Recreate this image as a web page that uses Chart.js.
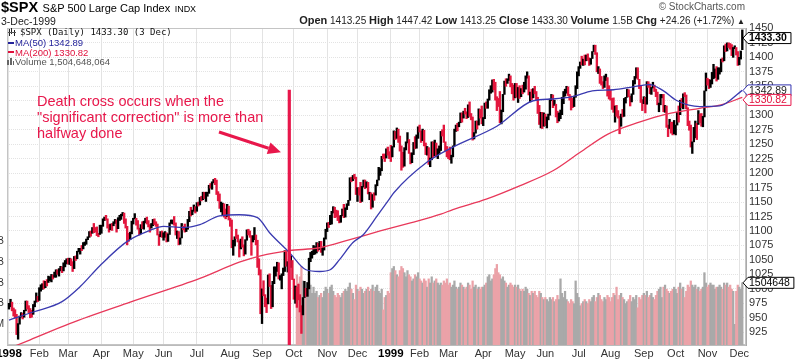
<!DOCTYPE html>
<html><head><meta charset="utf-8">
<script src="https://cdn.jsdelivr.net/npm/chart.js@4.4.1/dist/chart.umd.min.js"></script>
<style>
html,body{margin:0;padding:0;background:#fff;}
#wrap{position:relative;width:800px;height:360px;overflow:hidden;font-family:Arial,"Liberation Sans",sans-serif;}
canvas{position:absolute;left:0;top:0;}
.t{position:absolute;white-space:nowrap;}
</style></head><body>
<div id="wrap">
<canvas id="c" width="800" height="360"></canvas>
<div class="t" style="left:1px;top:-1px;line-height:16px;color:#000;"><b style="font-size:14.5px;">$SPX</b> <span style="font-size:11px;">S&amp;P 500 Large Cap Index</span> <span style="font-size:9px;">INDX</span></div>
<div class="t" style="left:1px;top:16px;line-height:11px;font-size:10.5px;color:#222;">3-Dec-1999</div>
<div class="t" style="right:55px;top:1px;line-height:11px;font-size:10px;color:#555;">© StockCharts.com</div>
<div class="t" id="stats" style="right:55px;top:14px;line-height:12px;font-size:10px;color:#222;"></div>
<div class="t" style="left:8px;top:28px;width:9px;height:8px;">
  <span style="position:absolute;left:1px;top:1px;width:1px;height:7px;background:#222"></span>
  <span style="position:absolute;left:3px;top:0px;width:1px;height:6px;background:#222"></span>
  <span style="position:absolute;left:6px;top:2px;width:1px;height:6px;background:#222"></span>
  <span style="position:absolute;left:0px;top:4px;width:8px;height:1px;background:#555"></span>
</div>
<div class="t" id="lg1" style="left:20px;top:27px;line-height:11px;font:9px 'DejaVu Sans Mono',monospace;color:#111;"></div>
<div class="t" style="left:8px;top:42px;width:6px;height:2px;background:#23239b;"></div>
<div class="t" id="lg2" style="left:15px;top:37px;line-height:11px;font-size:9.5px;color:#23239b;"></div>
<div class="t" style="left:8px;top:51px;width:6px;height:2px;background:#e0103c;"></div>
<div class="t" id="lg3" style="left:15px;top:46.5px;line-height:11px;font-size:9.5px;color:#e0103c;"></div>
<div class="t" style="left:7px;top:57px;width:8px;height:8px;">
  <span style="position:absolute;left:0px;top:3px;width:2px;height:5px;background:#666"></span>
  <span style="position:absolute;left:3px;top:1px;width:2px;height:7px;background:#666"></span>
  <span style="position:absolute;left:6px;top:4px;width:1px;height:4px;background:#666"></span>
</div>
<div class="t" id="lg4" style="left:15px;top:56px;line-height:11px;font-size:9.5px;color:#555;"></div>
<div class="t" style="left:37px;top:92.5px;line-height:16.3px;font-size:14.5px;color:#e8174b;">Death cross occurs when the<br>"significant correction" is more than<br>halfway done</div>
</div>
<script>
// ---- month axis (trading-day index of each month's first session) ----
const monthStarts = [0,20,39,61,82,102,124,146,167,188,210,230,252,271,290,313,334,354,376,397,419,440,461,482];
const monthLabels = ['1998','Feb','Mar','Apr','May','Jun','Jul','Aug','Sep','Oct','Nov','Dec','1999','Feb','Mar','Apr','May','Jun','Jul','Aug','Sep','Oct','Nov','Dec'];
const priceTicks = [925,950,975,1000,1025,1050,1075,1100,1125,1150,1175,1200,1225,1250,1275,1300,1325,1350,1375,1400,1425,1450];
const volTicks = [500e6,1000e6,1500e6,2000e6,2500e6];
const prevCloseBefore = 970;

// ---- daily closes, 2-Jan-1998 .. 3-Dec-1999 ----
const closes = [
975,977,967,964,956,928,939,952,958,951,962,979,971,963,958,957,969,977,985,980,
1001,1006,1007,1004,1012,1011,1019,1020,1024,1020,1023,1032,1028,1034,1038,1031,1043,1049,1049,
1048,1052,1047,1035,1056,1052,1064,1068,1070,1069,1079,1080,1086,1090,1099,1096,1106,1102,1101,1095,1094,1102,
1108,1120,1123,1121,1110,1102,1111,1110,1116,1119,1108,1123,1124,1127,1131,1120,1108,1087,1085,1095,1112,
1121,1122,1116,1105,1095,1108,1107,1116,1119,1117,1109,1106,1110,1119,1115,1110,1094,1092,1098,1091,
1091,1093,1083,1095,1114,1116,1118,1112,1095,1099,1077,1088,1107,1106,1101,1103,1119,1133,1129,1133,1138,1134,
1149,1146,1157,1155,1166,1159,1164,1165,1178,1175,1184,1187,1184,1165,1164,1140,1141,1147,1130,1125,1143,1121,
1112,1072,1081,1090,1089,1083,1069,1084,1075,1063,1084,1101,1098,1092,1081,1088,1093,1084,1043,1027,957,
994,990,982,974,1023,1006,980,1009,1030,1038,1045,1019,1020,1024,1030,1066,1043,1045,1049,1049,1017,
986,1003,989,985,971,959,984,998,995,1006,1047,1056,1062,1064,1070,1078,1071,1072,1065,1068,1086,1099,
1112,1111,1119,1134,1141,1130,1128,1121,1118,1126,1136,1129,1139,1144,1153,1192,1187,1195,1192,1164,
1175,1171,1150,1177,1188,1181,1183,1165,1166,1141,1163,1162,1180,1188,1203,1204,1229,1226,1225,1242,1232,1229,
1228,1245,1272,1270,1275,1264,1240,1234,1212,1243,1252,1257,1235,1225,1234,1252,1243,1265,1280,
1273,1262,1272,1248,1239,1244,1216,1224,1254,1230,1252,1230,1239,1239,1272,1271,1253,1245,1238,
1236,1226,1228,1247,1275,1283,1280,1287,1298,1295,1307,1306,1298,1317,1299,1297,1262,1269,1290,1283,1310,1301,1286,
1294,1321,1318,1327,1344,1348,1359,1350,1328,1323,1319,1289,1306,1336,1359,1357,1360,1363,1351,1343,1335,
1355,1332,1347,1332,1345,1340,1356,1364,1368,1338,1339,1333,1344,1339,1330,1307,1284,1305,1281,1302,
1294,1295,1300,1328,1335,1317,1319,1303,1294,1294,1301,1330,1340,1343,1349,1336,1333,1316,1315,1331,1351,1373,
1381,1391,1388,1396,1394,1403,1399,1394,1398,1410,1419,1408,1377,1379,1361,1357,1348,1363,1365,1341,1329,
1328,1322,1305,1314,1300,1298,1281,1302,1298,1328,1331,1344,1333,1324,1337,1360,1364,1382,1362,1348,1324,1320,
1331,1319,1357,1350,1344,1348,1352,1344,1336,1318,1318,1335,1336,1308,1311,1280,1277,1283,1282,1268,1283,
1283,1305,1301,1325,1318,1336,1335,1313,1286,1283,1247,1254,1261,1289,1284,1302,1294,1282,1297,1342,1363,
1354,1348,1355,1363,1370,1377,1365,1373,1381,1396,1394,1420,1411,1425,1422,1421,1405,1417,1417,1408,1389,
1398,1409,1433.30];

const highs = [
975,982,977,967,964,956,940,953,959,958,963,979,979,971,966,963,973,979,993,987,
1002,1007,1009,1014,1013,1016,1022,1021,1025,1024,1029,1033,1033,1035,1039,1038,1045,1049,1052,
1053,1053,1052,1047,1056,1057,1065,1070,1070,1075,1080,1081,1086,1090,1099,1100,1106,1113,1106,1107,1096,1110,
1110,1121,1124,1127,1121,1111,1112,1113,1116,1120,1119,1123,1127,1129,1132,1131,1121,1108,1096,1098,1117,
1122,1130,1122,1118,1105,1111,1116,1117,1122,1124,1118,1111,1113,1120,1121,1116,1112,1094,1099,1100,
1097,1099,1097,1095,1114,1119,1119,1125,1114,1100,1099,1088,1113,1108,1112,1106,1120,1134,1141,1136,1145,1142,
1149,1150,1158,1160,1167,1167,1167,1167,1179,1182,1185,1189,1191,1188,1168,1164,1150,1148,1147,1138,1146,1143,
1122,1119,1084,1090,1103,1093,1083,1086,1090,1076,1085,1102,1103,1100,1092,1092,1106,1093,1084,1052,1033,
1000,1014,990,984,1024,1026,1006,1013,1038,1038,1046,1045,1023,1026,1036,1066,1066,1047,1062,1057,1049,
1017,1005,1003,1008,990,971,985,1013,1001,1011,1053,1063,1065,1075,1073,1080,1079,1082,1082,1072,1088,1103,
1114,1115,1127,1134,1142,1141,1136,1135,1126,1127,1138,1146,1140,1147,1153,1192,1193,1196,1198,1193,
1175,1175,1184,1177,1188,1188,1185,1184,1167,1166,1163,1166,1180,1188,1210,1208,1229,1233,1233,1242,1245,1237,
1248,1246,1273,1272,1278,1276,1264,1247,1236,1244,1254,1270,1258,1235,1235,1253,1263,1266,1280,
1283,1273,1276,1274,1252,1246,1244,1226,1254,1254,1257,1252,1242,1247,1272,1275,1283,1254,1246,
1240,1245,1231,1247,1276,1283,1286,1288,1304,1304,1307,1312,1306,1318,1323,1303,1297,1270,1290,1290,1311,1310,1316,
1296,1321,1323,1328,1344,1351,1361,1362,1357,1332,1329,1341,1309,1336,1359,1363,1363,1371,1368,1355,1352,
1355,1355,1348,1351,1346,1352,1357,1368,1375,1368,1340,1345,1346,1350,1341,1331,1317,1305,1305,1304,
1302,1297,1302,1328,1336,1335,1326,1319,1307,1304,1309,1331,1341,1345,1350,1349,1336,1333,1329,1333,1351,1375,
1384,1392,1402,1397,1404,1404,1406,1399,1398,1410,1421,1421,1408,1384,1380,1367,1358,1368,1371,1365,1351,
1344,1329,1330,1316,1317,1308,1298,1302,1310,1329,1331,1345,1344,1333,1337,1360,1367,1382,1382,1362,1350,1327,
1332,1331,1358,1358,1354,1348,1357,1352,1345,1340,1321,1336,1336,1336,1317,1316,1283,1293,1288,1288,1291,
1283,1305,1316,1326,1329,1337,1339,1335,1313,1290,1283,1254,1279,1290,1286,1308,1302,1303,1298,1342,1373,
1364,1362,1361,1374,1388,1380,1384,1382,1382,1397,1399,1420,1423,1425,1425,1424,1422,1417,1420,1417,1410,
1400,1411,1447.42];

const lows = [
965,969,962,953,950,921,913,939,951,948,951,962,965,959,950,951,956,969,977,978,
980,996,999,1000,1002,1005,1011,1014,1012,1017,1020,1020,1025,1022,1031,1028,1031,1038,1043,
1043,1042,1040,1030,1035,1049,1052,1064,1060,1066,1069,1075,1077,1085,1089,1091,1096,1097,1098,1092,1090,1094,
1096,1108,1118,1119,1105,1098,1102,1101,1109,1113,1098,1104,1118,1120,1126,1113,1105,1076,1082,1085,1095,
1112,1121,1110,1103,1093,1095,1104,1103,1114,1112,1107,1098,1105,1109,1111,1108,1093,1075,1090,1089,
1084,1089,1081,1082,1094,1113,1112,1110,1093,1087,1076,1077,1088,1102,1098,1099,1103,1116,1126,1128,1134,1131,
1134,1143,1145,1152,1154,1156,1151,1160,1165,1174,1172,1183,1180,1163,1152,1139,1133,1128,1124,1121,1125,1119,
1108,1071,1058,1074,1087,1081,1055,1069,1072,1057,1060,1084,1093,1089,1058,1081,1085,1076,1037,1024,957,
940,988,969,959,974,1004,966,969,1009,1022,1030,1017,1015,1000,1023,1030,1039,1029,1045,1037,1016,
982,975,968,981,960,923,955,985,987,987,1000,1047,1053,1059,1060,1062,1065,1068,1063,1058,1067,1086,
1099,1106,1111,1112,1131,1123,1124,1118,1114,1115,1126,1123,1124,1137,1144,1153,1185,1187,1190,1163,
1151,1162,1149,1151,1176,1173,1175,1164,1154,1138,1141,1153,1162,1178,1188,1196,1204,1225,1220,1226,1231,1225,
1220,1228,1245,1258,1260,1253,1238,1205,1210,1212,1240,1252,1234,1216,1218,1232,1242,1243,1260,
1271,1253,1256,1247,1232,1231,1215,1211,1223,1227,1230,1228,1225,1234,1239,1264,1253,1238,1228,
1225,1223,1217,1228,1247,1272,1273,1280,1287,1288,1295,1302,1294,1296,1298,1292,1257,1259,1269,1276,1283,1295,1285,
1282,1294,1312,1312,1326,1338,1340,1344,1326,1308,1315,1287,1285,1306,1336,1350,1355,1360,1349,1337,1326,
1330,1331,1322,1329,1332,1337,1340,1345,1364,1335,1323,1327,1330,1337,1327,1303,1284,1278,1277,1281,
1282,1278,1292,1300,1325,1313,1317,1297,1287,1290,1294,1301,1320,1333,1338,1334,1326,1309,1313,1315,1331,1346,
1368,1381,1387,1386,1387,1394,1395,1386,1388,1398,1410,1405,1375,1372,1355,1352,1346,1348,1360,1333,1328,
1326,1310,1305,1288,1298,1295,1268,1281,1297,1298,1321,1331,1332,1316,1323,1336,1354,1364,1362,1346,1322,1308,
1320,1304,1319,1348,1337,1336,1347,1341,1332,1318,1306,1318,1330,1306,1305,1279,1263,1277,1269,1266,1268,
1266,1283,1288,1301,1313,1311,1332,1311,1282,1274,1245,1234,1254,1261,1258,1284,1287,1281,1280,1297,1342,
1352,1346,1348,1354,1363,1365,1359,1362,1371,1375,1392,1394,1410,1411,1417,1414,1403,1400,1415,1404,1386,
1387,1397,1413.25];

// ---- volume (millions of shares), from trading day 190 (5-Oct-1998) ----
const volStart = 190;
const volumeM = [
1700,1500,1650,1900,1550,1350,1200,1300,1500,1450,1250,1400,1250,1300,1150,1200,1250,1150,1300,1400,
1350,1250,1400,1450,1300,1200,1150,1250,1200,1150,1250,1300,1350,1300,1400,1500,1350,1250,1100,1450,
1350,1300,1400,1350,1250,1300,1350,1400,1300,1350,1450,1300,1400,1450,1300,1250,1350,850,1150,1200,1300,1250,
1750,1850,1900,1800,1700,1650,1800,1900,1850,1750,1650,1800,1700,1650,1550,1600,1700,1650,1750,
1600,1550,1500,1600,1550,1400,1600,1500,1650,1500,1550,1600,1500,1450,1500,1450,1550,1500,1600,
1450,1500,1400,1450,1550,1400,1350,1400,1500,1450,1400,1350,1400,1500,1450,1350,1550,1400,1450,1350,1400,1350,1400,
1400,1450,1500,1650,1700,1550,1600,1700,1850,1950,1750,1700,1600,1650,1550,1500,1400,1450,1500,1450,1400,
1450,1400,1450,1350,1300,1350,1300,1400,1350,1250,1200,1300,1250,1300,1200,1150,1300,1250,1150,1100,
1150,1100,1050,1150,1100,1150,1050,1100,1200,1100,1600,1250,1150,1300,1100,1050,1000,1100,1050,1000,1550,1250,
1150,950,1000,1050,1100,1050,1000,1100,1050,1150,1200,1050,1150,1250,1200,1100,1050,1150,1100,1200,1150,
1050,1150,1250,1200,1400,1100,1200,1250,1150,1100,1000,1050,1100,1200,1050,1150,1100,1200,900,1150,1100,1200,
1250,1200,1300,1150,1200,1250,1150,1100,1200,1300,1350,1400,1150,1400,1450,1350,1300,1250,1300,1350,1400,
1350,1250,1400,1500,1350,1400,1150,1300,1450,1400,1550,1450,1400,1450,1350,1400,1300,1350,1400,1750,1500,
1400,1450,1500,1450,1450,1350,1400,1400,1450,1400,1350,1500,1450,1500,1400,1450,1350,1300,500,1300,1450,
1400,1350,1504.648064];

// ---- moving averages (trading-day index, value) ----
const ma50Days = [0,16,35,47,60,78,93,102,115,126,139,152,164,172,185,196,205,212,218,227,234,243,251,254,276,293,322,346,359,372,385,399,412,423,432,441,456,469,484];
const ma50Vals = [946,960,978,1004,1040,1082,1101,1108,1106,1111,1126,1128,1123,1097,1063,1033,1030,1033,1050,1080,1094,1126,1155,1166,1219,1245,1281,1325,1328,1332,1342,1344,1349,1353,1342,1325,1315,1316,1342.89];
const ma200Days = [0,14,40,80,126,152,166,185,205,225,245,265,285,293,315,337,359,377,395,416,434,456,470,484];
const ma200Vals = [897,912,940,977,1018,1046,1057,1066,1071,1085,1100,1114,1129,1137,1155,1178,1204,1236,1267,1288,1302,1312,1318,1330.82];

// ---- annotation anchors (trading-day index, price) ----
const markerDay = 185, markerTop = 1344;
const arrowFrom = [138.6, 1271], arrowTo = [179.5, 1236];

const quote = {open:'1413.25', high:'1447.42', low:'1413.25', close:'1433.30', volume:'1.5B', chg:'+24.26 (+1.72%)'};

// ---------------------------------------------------------------
const FONT = 'Arial, "Liberation Sans", sans-serif';
const N = closes.length;
const isUp = closes.map((c,i)=> c >= (i===0 ? prevCloseBefore : closes[i-1]));
const RED = '#e3173e';

const B = s => '<b style="font-size:11px">'+s+'</b>';
document.getElementById('stats').innerHTML =
  B('Open')+' '+quote.open+' '+B('High')+' '+quote.high+' '+B('Low')+' '+quote.low+' '+B('Close')+' '+quote.close+
  ' '+B('Volume')+' '+quote.volume+' '+B('Chg')+' '+quote.chg+' <span style="font-size:8px">▲</span>';
const lastVol = volumeM[volumeM.length-1]*1e6;
document.getElementById('lg1').textContent = '$SPX (Daily) '+closes[N-1].toFixed(2)+' (3 Dec)';
document.getElementById('lg2').textContent = 'MA(50) '+ma50Vals[ma50Vals.length-1].toFixed(2);
document.getElementById('lg3').textContent = 'MA(200) '+ma200Vals[ma200Vals.length-1].toFixed(2);
document.getElementById('lg4').textContent = 'Volume '+Math.round(lastVol).toLocaleString('en-US');

const priceData = closes.map((c,i)=>({x:i, y:[lows[i], highs[i]]}));
const volData = volumeM.map((v,k)=>({x:volStart+k, y:v*1e6}));
const ma50Data = ma50Days.map((d,k)=>({x:d, y:ma50Vals[k]}));
const ma200Data = ma200Days.map((d,k)=>({x:d, y:ma200Vals[k]}));

function tag(ctx, x, yc, text, border, color, bold){
  ctx.save();
  ctx.font = (bold?'bold ':'')+'10.5px '+FONT;
  const w = ctx.measureText(text).width + 5;
  const h = 11;
  ctx.beginPath();
  ctx.moveTo(x, yc);
  ctx.lineTo(x+5, yc-h/2);
  ctx.lineTo(x+5+w, yc-h/2);
  ctx.lineTo(x+5+w, yc+h/2);
  ctx.lineTo(x+5, yc+h/2);
  ctx.closePath();
  ctx.fillStyle = '#fff'; ctx.fill();
  ctx.strokeStyle = border; ctx.lineWidth = 1; ctx.stroke();
  ctx.fillStyle = color; ctx.textBaseline = 'middle'; ctx.textAlign = 'left';
  ctx.fillText(text, x+6, yc+0.5);
  ctx.restore();
}

const deco = {
  id:'deco',
  beforeDatasetsDraw(chart){
    const {ctx, chartArea:a} = chart;
    ctx.save();
    ctx.strokeStyle = '#c4c4c4'; ctx.lineWidth = 1;
    ctx.strokeRect(a.left+0.5, a.top+0.5, a.right-a.left-1, a.bottom-a.top-1);
    ctx.restore();
  },
  afterDatasetsDraw(chart){
    const {ctx, chartArea:a, scales:{x, y}} = chart;
    ctx.save();
    ctx.beginPath(); ctx.rect(a.left, a.top, a.right-a.left, a.bottom-a.top); ctx.clip();
    ctx.strokeStyle = '#e8174b'; ctx.fillStyle = '#e8174b';
    ctx.lineWidth = 3.2;
    const mx = x.getPixelForValue(markerDay);
    ctx.beginPath(); ctx.moveTo(mx, y.getPixelForValue(markerTop)); ctx.lineTo(mx, a.bottom); ctx.stroke();
    const x1 = x.getPixelForValue(arrowFrom[0]), y1 = y.getPixelForValue(arrowFrom[1]);
    const x2 = x.getPixelForValue(arrowTo[0]), y2 = y.getPixelForValue(arrowTo[1]);
    const ang = Math.atan2(y2-y1, x2-x1), L = 13, W = 6;
    const bx = x2 - L*Math.cos(ang), by = y2 - L*Math.sin(ang);
    ctx.lineWidth = 3;
    ctx.beginPath(); ctx.moveTo(x1, y1); ctx.lineTo(bx, by); ctx.stroke();
    ctx.beginPath(); ctx.moveTo(x2, y2);
    ctx.lineTo(bx + W*Math.sin(ang), by - W*Math.cos(ang));
    ctx.lineTo(bx - W*Math.sin(ang), by + W*Math.cos(ang));
    ctx.closePath(); ctx.fill();
    ctx.restore();
  },
  afterDraw(chart){
    const {ctx, chartArea:a, scales:{y, yv}} = chart;
    const tx = a.right - 3;
    tag(ctx, tx, y.getPixelForValue(closes[N-1]), closes[N-1].toFixed(2), '#000', '#000', true);
    const yb = y.getPixelForValue(ma50Vals[ma50Vals.length-1]);
    let yr = y.getPixelForValue(ma200Vals[ma200Vals.length-1]);
    if (yr < yb + 9.5) yr = yb + 9.5;
    tag(ctx, tx, yb, ma50Vals[ma50Vals.length-1].toFixed(2), '#3434b0', '#222', false);
    tag(ctx, tx, yr, ma200Vals[ma200Vals.length-1].toFixed(2), '#e8174b', '#e0103c', false);
    tag(ctx, tx, yv.getPixelForValue(lastVol), String(Math.round(lastVol/1000)), '#000', '#000', false);
  }
};

new Chart(document.getElementById('c'), {
  type: 'bar',
  data: { datasets: [
    { type:'line', data: ma50Data, borderColor:'#3a3ab0', borderWidth:1.3, pointRadius:0, cubicInterpolationMode:'monotone', yAxisID:'y', order:0 },
    { type:'line', data: ma200Data, borderColor:'#e8385a', borderWidth:1.3, pointRadius:0, cubicInterpolationMode:'monotone', yAxisID:'y', order:0 },
    { type:'bar', data: priceData, backgroundColor: c => isUp[c.dataIndex] ? '#000' : RED, barThickness:1.7, grouped:false, yAxisID:'y', order:1 },
    { type:'bar', data: volData, backgroundColor: c => isUp[volStart + c.dataIndex] ? '#a9a9a9' : '#eba2a8', barThickness:1.6, grouped:false, yAxisID:'yv', order:3 }
  ]},
  options: {
    responsive:false, animation:false, devicePixelRatio:1,
    layout:{ padding:{ top:28, left:0, right:0, bottom:0 } },
    plugins:{ legend:{display:false}, tooltip:{enabled:false} },
    scales:{
      x:{ type:'linear', min:-1.32, max:486.44, offset:false, position:'bottom',
          grid:{ offset:false, color:'#e3e3e3', drawTicks:false },
          border:{ color:'#bbb' },
          afterBuildTicks: s => { s.ticks = monthStarts.map(v=>({value:v})); },
          afterFit: s => { s.height = 15; s.paddingLeft = 0; s.paddingRight = 0; },
          ticks:{ autoSkip:false, maxRotation:0, padding:2,
                  callback:(v,i)=> monthLabels[i],
                  color: c => /^\d{4}$/.test(monthLabels[c.index]) ? '#000' : '#333',
                  font: c => /^\d{4}$/.test(monthLabels[c.index]) ? {family:FONT, size:11.5, weight:'bold'} : {family:FONT, size:11} } },
      y:{ type:'linear', position:'right', min:903, max:1450.7,
          grid:{ color:'#e3e3e3', drawTicks:false },
          border:{ color:'#aaa', dash:[1,1] },
          afterBuildTicks: s => { s.ticks = priceTicks.map(v=>({value:v})); },
          afterFit: s => { s.width = 54; s.paddingTop = 0; s.paddingBottom = 0; },
          ticks:{ autoSkip:false, padding:3, color:'#333', font:{family:FONT, size:11}, callback: v => String(v) } },
      yv:{ type:'linear', position:'left', min:0, max:7.67e9,
           grid:{ display:false, drawTicks:false }, border:{ display:false },
           afterBuildTicks: s => { s.ticks = volTicks.map(v=>({value:v})); },
           afterFit: s => { s.width = 7; s.paddingTop = 0; s.paddingBottom = 0; },
           ticks:{ autoSkip:false, padding:3, color:'#333', font:{family:FONT, size:10},
                   callback: v => v >= 1e9 ? (v/1e9).toFixed(1)+'B' : Math.round(v/1e6)+'M' } }
    }
  },
  plugins:[deco]
});
</script>
</body></html>
